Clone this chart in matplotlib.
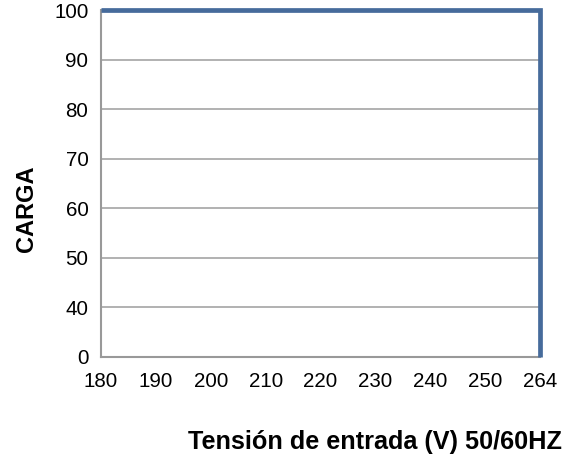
import matplotlib
matplotlib.use("Agg")
import matplotlib.pyplot as plt

x_labels = ["180", "190", "200", "210", "220", "230", "240", "250", "264"]
y_labels = ["0", "40", "50", "60", "70", "80", "90", "100"]
curve_x = ["180", "264", "264"]
curve_y = ["100", "100", "0"]

plt.rcParams['font.family'] = ['Liberation Sans', 'DejaVu Sans']

fig = plt.figure(figsize=(5.67, 4.70), dpi=100)
ax = fig.add_axes([101/567, (470-357)/470, (540-101)/567, (357-10)/470])

xi = [x_labels.index(v) for v in curve_x]
yi = [y_labels.index(v) for v in curve_y]

for i in range(1, len(y_labels)):
    ax.axhline(i, color='#ababab', lw=1.3, zorder=1)

ax.plot(xi, yi, color='#466b9b', lw=3.4, clip_on=False, zorder=3,
        solid_joinstyle='miter', solid_capstyle='butt')

ax.set_xlim(0, len(x_labels) - 1)
ax.set_ylim(0, len(y_labels) - 1)
ax.set_xticks(range(len(x_labels)))
ax.set_xticklabels(x_labels)
ax.set_yticks(range(len(y_labels)))
ax.set_yticklabels(y_labels)
ax.tick_params(axis='both', length=0, labelsize=14.8, colors='black')
ax.tick_params(axis='y', pad=9)
ax.tick_params(axis='x', pad=11)

for s in ['top', 'right']:
    ax.spines[s].set_visible(False)
for s in ['left', 'bottom']:
    ax.spines[s].set_color('#999999')
    ax.spines[s].set_linewidth(1.5)

fig.text(26/567, (470-209)/470, "CARGA", rotation=90, ha='center', va='center',
         fontsize=17, fontweight='bold')
fig.text(562/567, (470-442)/470, "Tensión de entrada (V) 50/60HZ", ha='right', va='center',
         fontsize=18.2, fontweight='bold')

fig.savefig("out.png", dpi=100)
